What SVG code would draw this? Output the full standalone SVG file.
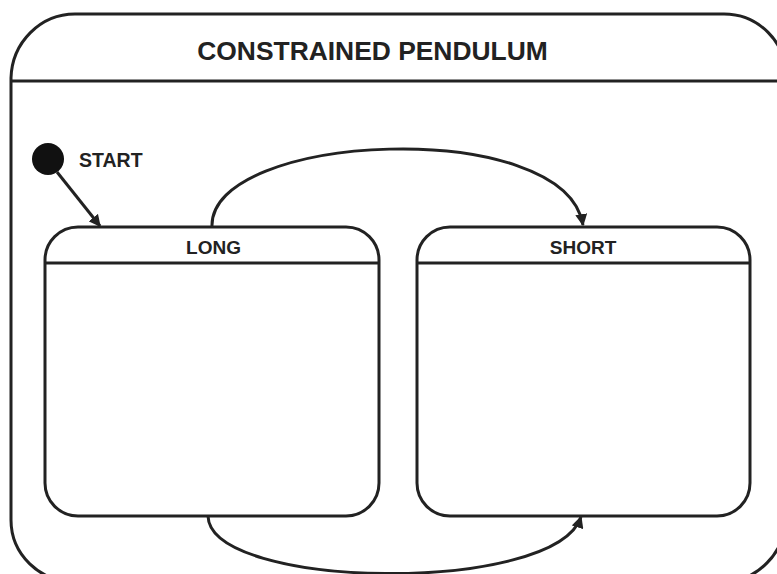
<svg xmlns="http://www.w3.org/2000/svg" width="777" height="574" viewBox="0 0 777 574">
<style>
.ln{fill:none;stroke:#222;stroke-width:3}
.box{fill:#fff;stroke:#222;stroke-width:3}
.t{font-family:"Liberation Sans",Arial,sans-serif;font-weight:bold;fill:#222}
</style>
<defs>
<marker id="ah" viewBox="0 0 10 10" refX="9" refY="5" markerWidth="4" markerHeight="4" orient="auto" markerUnits="strokeWidth">
<path d="M0,0 L10,5 L0,10 z" fill="#222"/>
</marker>
</defs>
<rect width="777" height="574" fill="#fff"/>
<g id="frame">
<path class="ln" d="M11,78 A64,66 0 0 1 75,14 L724,14 A62,62 0 0 1 786,76 L786,516 A64,66 0 0 1 722,582 L75,582 A64,62 0 0 1 11,520 Z"/>
<line class="ln" x1="11" y1="81" x2="786" y2="81"/>
<text class="t" x="372.5" y="60" font-size="26.4" text-anchor="middle">CONSTRAINED PENDULUM</text>
</g>
<g id="start">
<circle cx="48" cy="159" r="16" fill="#111"/>
<text class="t" x="79" y="167" font-size="19.5">START</text>
</g>
<g id="long">
<rect class="box" x="45" y="227" width="334" height="289" rx="33" ry="33"/>
<line class="ln" x1="45" y1="263" x2="379" y2="263"/>
<text class="t" x="213.5" y="254" font-size="19" text-anchor="middle">LONG</text>
</g>
<g id="short">
<rect class="box" x="417" y="227" width="333" height="289" rx="33" ry="33"/>
<line class="ln" x1="417" y1="263" x2="750" y2="263"/>
<text class="t" x="583" y="254" font-size="19" text-anchor="middle">SHORT</text>
</g>
<g id="connectors">
<line class="ln" x1="57" y1="172" x2="100" y2="226" stroke-width="2.2" marker-end="url(#ah)"/>
<path class="ln" d="M212,227 C208,132 565,115 583,225" marker-end="url(#ah)"/>
<path class="ln" d="M208,516 C210,590 555,595 581,517" marker-end="url(#ah)"/>
</g>
</svg>
